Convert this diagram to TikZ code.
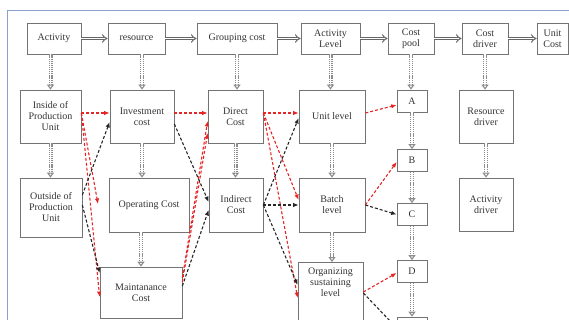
\documentclass[tikz,border=0pt]{standalone}
\usepackage{fontspec}
\setmainfont{Liberation Serif}
\usetikzlibrary{arrows.meta}
\definecolor{flowred}{RGB}{228,38,38}
\definecolor{framebl}{RGB}{140,160,205}
\begin{document}
\begin{tikzpicture}[x=1pt,y=-1pt,
  box/.style={draw=black!55,line width=0.7pt,align=center,inner sep=1pt,
    font=\fontsize{10}{11}\selectfont,text=black!80},
  hflow/.style={draw=black!60,double,double distance=1.8pt,line width=1pt,-{Implies}},
  vflow/.style={draw=black!45,double,double distance=1.8pt,line width=1.1pt,
    dash pattern=on 1.2pt off 0.9pt,-{Triangle[open,length=5pt,width=7pt]}},
  rlink/.style={flowred,densely dashed,line width=1.1pt,-{Latex[length=5.5pt,width=4.5pt]}},
  klink/.style={black!85,densely dashed,line width=1.1pt,-{Latex[length=5.5pt,width=4.5pt]}}]
\useasboundingbox (0,0) rectangle (569,320);
\clip (0,0) rectangle (569,320);
\draw[framebl,line width=0.8pt] (7,340) -- (7,10) -- (590,10);

% top row
\node[box,minimum width=54pt,minimum height=31pt] (act) at (54,38.5) {Activity};
\node[box,minimum width=57pt,minimum height=31pt] (res) at (136.5,38.5) {resource};
\node[box,minimum width=80pt,minimum height=31pt] (grp) at (237,38.5) {Grouping cost};
\node[box,minimum width=59pt,minimum height=31pt] (actlev) at (330.5,38.5) {Activity\\Level};
\node[box,minimum width=46pt,minimum height=31pt] (pool) at (411,38.5) {Cost\\pool};
\node[box,minimum width=46pt,minimum height=31pt] (drv) at (485,38.5) {Cost\\driver};
\node[box,minimum width=31pt,minimum height=31pt] (unit) at (552.5,38.5) {Unit\\Cost};

% second row
\node[box,minimum width=61pt,minimum height=53pt] (inside) at (50.5,116.5) {Inside of\\Production\\Unit};
\node[box,minimum width=64pt,minimum height=53pt] (inv) at (142,116.5) {Investment\\cost};
\node[box,minimum width=55pt,minimum height=53pt] (dir) at (235.5,116.5) {Direct\\Cost};
\node[box,minimum width=66pt,minimum height=53pt] (ulev) at (332,116.5) {Unit level};
\node[box,minimum width=30pt,minimum height=22pt] (A) at (412,101) {A};
\node[box,minimum width=54pt,minimum height=53pt] (rdrv) at (486,116.5) {Resource\\driver};

% third row
\node[box,minimum width=62pt,minimum height=59pt] (out) at (51,207.5) {Outside of\\Production\\Unit};
\node[box,minimum width=80pt,minimum height=54pt] (ope) at (149,205) {Operating Cost};
\node[box,minimum width=54pt,minimum height=54pt] (ind) at (236,205) {Indirect\\Cost};
\node[box,minimum width=66pt,minimum height=54pt] (blev) at (332,205) {Batch\\level};
\node[box,minimum width=30pt,minimum height=22pt] (B) at (412,160.5) {B};
\node[box,minimum width=30pt,minimum height=22pt] (C) at (412,214.5) {C};
\node[box,minimum width=54pt,minimum height=53pt] (adrv) at (486,204.5) {Activity\\driver};

% bottom row
\node[box,minimum width=82pt,minimum height=51pt] (mnt) at (141,292.5) {Maintanance\\Cost};
\node[box,minimum width=65pt,inner ysep=6pt,text depth=50pt,anchor=north] (org) at (330.5,262) {Organizing\\sustaining\\level};
\node[box,minimum width=30pt,minimum height=22pt] (D) at (412,271.5) {D};
\node[box,minimum width=30pt,minimum height=22pt] (E) at (412,328) {};

% main flow
\draw[hflow] (act) -- (res);
\draw[hflow] (res) -- (grp);
\draw[hflow] (grp) -- (actlev);
\draw[hflow] (actlev) -- (pool);
\draw[hflow] (pool) -- (drv);
\draw[hflow] (drv) -- (unit);

\draw[vflow] (act.south -| inside.north) -- (inside.north);
\draw[vflow] (res.south -| inv.north) -- (inv.north);
\draw[vflow] (grp.south) -- (grp.south |- dir.north);
\draw[vflow] (actlev.south) -- (actlev.south |- ulev.north);
\draw[vflow] (pool.south) -- (pool.south |- A.north);
\draw[vflow] (drv.south) -- (drv.south |- rdrv.north);
\draw[vflow] (inside.south) -- (inside.south |- out.north);
\draw[vflow] (inv.south) -- (inv.south |- ope.north);
\draw[vflow] (ope.south -| mnt.north) -- (mnt.north);
\draw[vflow] (dir.south) -- (dir.south |- ind.north);
\draw[vflow] (ulev.south) -- (blev.north);
\draw[vflow] (blev.south) -- (blev.south |- org.north);
\draw[vflow] (A) -- (B);
\draw[vflow] (B) -- (C);
\draw[vflow] (C) -- (D);
\draw[vflow] (D) -- (E);
\draw[vflow] (rdrv) -- (adrv);

% red links
\coordinate (rend) at (98,204);
\draw[rlink] ([yshift=3.5pt]inside.east) -- ([yshift=3.5pt]inv.west);
\draw[rlink] ([yshift=3.5pt]inside.east) -- (rend);
\draw[rlink] ([yshift=3.5pt]inside.east) -- ([yshift=-4.5pt]mnt.west);
\draw[rlink] ([yshift=3.5pt]inv.east) -- ([yshift=3.5pt]dir.west);
\draw[rlink] ([yshift=14.5pt]mnt.east) -- ([yshift=-4.5pt]dir.west);
\draw[rlink] ([yshift=10.5pt]mnt.east) -- ([yshift=-16.5pt]dir.west);
\draw[rlink] ([yshift=3.5pt]dir.east) -- ([yshift=3.5pt]ulev.west);
\draw[rlink] ([yshift=3.5pt]dir.east) -- ([yshift=5pt]blev.west);
\draw[rlink] ([yshift=3.5pt]dir.east) -- ([yshift=-36pt]org.north west);
\draw[rlink] ([yshift=3.5pt]ulev.east) -- ([yshift=-4pt]A.west);
\draw[rlink] (blev.east) -- ([yshift=-1.5pt]B.west);
\draw[rlink] ([yshift=-30pt]org.north east) -- ([yshift=-1.5pt]D.west);

% black links
\draw[klink] ([yshift=12.5pt]out.east) -- ([yshift=-5.5pt]inv.west);
\draw[klink] ([yshift=2.5pt]out.east) -- ([yshift=19.5pt]mnt.west);
\draw[klink] ([yshift=-7.5pt]inv.east) -- ([yshift=3pt]ind.west);
\draw[klink] ([yshift=6.5pt]mnt.east) -- ([yshift=-5pt]ind.west);
\draw[klink] (ind.east) -- ([yshift=-1.5pt]ulev.west);
\draw[klink] (ind.east) -- (blev.west);
\draw[klink] (ind.east) -- ([yshift=-23pt]org.north west);
\draw[klink] (blev.east) -- (C.west);
\draw[klink] ([yshift=-31pt]org.north east) -- (E.west);
\end{tikzpicture}
\end{document}
